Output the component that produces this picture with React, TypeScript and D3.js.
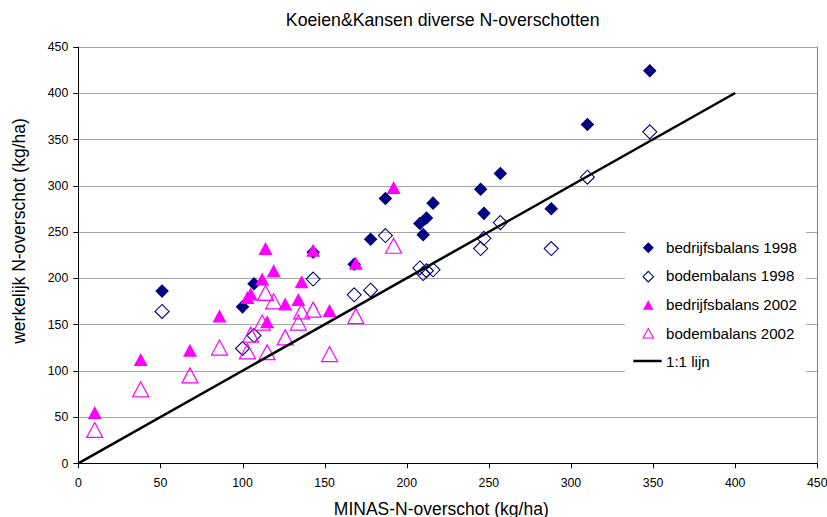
import React from "react";
import * as d3 from "d3";

const title = "Koeien&Kansen diverse N-overschotten";
const xTitle = "MINAS-N-overschot (kg/ha)";
const yTitle = "werkelijk N-overschot (kg/ha)";

const xTicks = [0, 50, 100, 150, 200, 250, 300, 350, 400, 450];
const yTicks = [0, 50, 100, 150, 200, 250, 300, 350, 400, 450];

const minas1998 = [51, 100, 107, 143, 168, 178, 187, 208, 210, 212, 216, 245, 247, 257, 288, 310, 348];
const bedrijfs1998 = [186, 169, 194, 228, 215, 242, 286, 259, 247, 265, 281, 296, 270, 313, 275, 366, 424];
const bodem1998 = [164, 124, 138, 199, 182, 187, 246, 211, 205, 208, 209, 232, 243, 260, 232, 309, 358];

const minas2002 = [10, 38, 68, 86, 103, 105, 112, 114, 115, 119, 126, 134, 136, 143, 153, 169, 192];
const bedrijfs2002 = [55, 112, 122, 159, 179, 183, 199, 232, 153, 208, 172, 177, 196, 230, 165, 216, 298];
const bodem2002 = [36, 80, 95, 125, 121, 139, 152, 184, 120, 175, 136, 152, 164, 166, 118, 159, 235];

const lineX = [0, 400];
const lineY = [0, 400];

const legendLabels = ["bedrijfsbalans 1998", "bodembalans 1998", "bedrijfsbalans 2002", "bodembalans 2002", "1:1 lijn"];

const NAVY = "#000080";
const MAGENTA = "#FF00FF";

const diamond = (r: number) => `M0,${-r}L${r},0L0,${r}L${-r},0Z`;
const triangle = (w: number, h: number) => `M0,${-h / 2}L${w / 2},${h / 2}L${-w / 2},${h / 2}Z`;

export default function App() {
  const W = 827, H = 517;
  const x = d3.scaleLinear().domain([0, 450]).range([78.3, 817.3]);
  const y = d3.scaleLinear().domain([0, 450]).range([463.3, 46.7]);
  const font = "Arial, 'Liberation Sans', Helvetica, sans-serif";
  const line = d3.line<number>().x((d) => x(lineX[d])).y((d) => y(lineY[d]));

  const legX = 625, legY = 231, legW = 181, legH = 141;
  const markY = [247.7, 276.7, 305, 333.3, 361];
  const textY = [252.5, 281.3, 310, 338.6, 366.8];

  return (
    <svg width={W} height={H} style={{ position: "absolute", left: 0, top: 0, background: "#fff" }} fontFamily={font}>
      <rect width={W} height={H} fill="#fff" />
      <text x={442.7} y={26} textAnchor="middle" fontSize={17.7} fill="#000">{title}</text>
      {/* gridlines */}
      {yTicks.filter((t) => t > 0).map((t) => (
        <line key={"g" + t} x1={x(0)} x2={x(450)} y1={Math.round(y(t)) + 0.5} y2={Math.round(y(t)) + 0.5} stroke="#a6a6a6" strokeWidth={1} />
      ))}
      {/* right border */}
      <line x1={Math.round(x(450)) + 0.5} x2={Math.round(x(450)) + 0.5} y1={y(450)} y2={y(0)} stroke="#808080" strokeWidth={1} />
      {/* axes */}
      <line x1={Math.round(x(0)) + 0.5} x2={Math.round(x(0)) + 0.5} y1={y(450)} y2={y(0) + 0.5} stroke="#000" strokeWidth={1} />
      <line x1={x(0)} x2={x(450)} y1={Math.round(y(0)) + 0.5} y2={Math.round(y(0)) + 0.5} stroke="#000" strokeWidth={1} />
      {yTicks.map((t) => (
        <g key={"yt" + t}>
          <line x1={x(0) - 5} x2={x(0)} y1={Math.round(y(t)) + 0.5} y2={Math.round(y(t)) + 0.5} stroke="#000" />
          <text x={x(0) - 10} y={y(t) + 4.3} textAnchor="end" fontSize={12.3} fill="#000">{t}</text>
        </g>
      ))}
      {xTicks.map((t) => (
        <g key={"xt" + t}>
          <line x1={Math.round(x(t)) + 0.5} x2={Math.round(x(t)) + 0.5} y1={y(0)} y2={y(0) + 5} stroke="#000" />
          <text x={x(t)} y={y(0) + 24} textAnchor="middle" fontSize={12.3} fill="#000">{t}</text>
        </g>
      ))}
      <text x={441.3} y={514.5} textAnchor="middle" fontSize={17.5} fill="#000">{xTitle}</text>
      <text transform={`translate(25,231) rotate(-90)`} textAnchor="middle" fontSize={17.5} fill="#000">{yTitle}</text>

      {/* series */}
      {minas1998.map((v, i) => (
        <path key={"a" + i} d={diamond(6.8)} transform={`translate(${x(v)},${y(bedrijfs1998[i])})`} fill={NAVY} />
      ))}
      {minas1998.map((v, i) => (
        <path key={"b" + i} d={diamond(7)} transform={`translate(${x(v)},${y(bodem1998[i])})`} fill="none" stroke={NAVY} strokeWidth={1.1} />
      ))}
      {minas2002.map((v, i) => (
        <path key={"c" + i} d={triangle(14, 13)} transform={`translate(${x(v)},${y(bedrijfs2002[i])})`} fill={MAGENTA} />
      ))}
      {minas2002.map((v, i) => (
        <path key={"d" + i} d={triangle(16, 15)} transform={`translate(${x(v)},${y(bodem2002[i])})`} fill="none" stroke={MAGENTA} strokeWidth={1.2} />
      ))}
      <path d={line([0, 1]) || ""} stroke="#000" strokeWidth={2.5} fill="none" />

      {/* legend */}
      <rect x={legX} y={legY} width={legW} height={legH} fill="#fff" />
      <path d={diamond(5.5)} transform={`translate(648.3,${markY[0]})`} fill={NAVY} />
      <path d={diamond(5.3)} transform={`translate(648.3,${markY[1]})`} fill="none" stroke={NAVY} strokeWidth={1.1} />
      <path d={triangle(10.5, 9.5)} transform={`translate(648.3,${markY[2]})`} fill={MAGENTA} />
      <path d={triangle(10.5, 9.5)} transform={`translate(648.3,${markY[3]})`} fill="none" stroke={MAGENTA} strokeWidth={1.1} />
      <line x1={633.3} x2={661.7} y1={markY[4]} y2={markY[4]} stroke="#000" strokeWidth={2.5} />
      {legendLabels.map((l, i) => (
        <text key={"l" + i} x={666} y={textY[i]} fontSize={15.1} fill="#000">{l}</text>
      ))}
    </svg>
  );
}
